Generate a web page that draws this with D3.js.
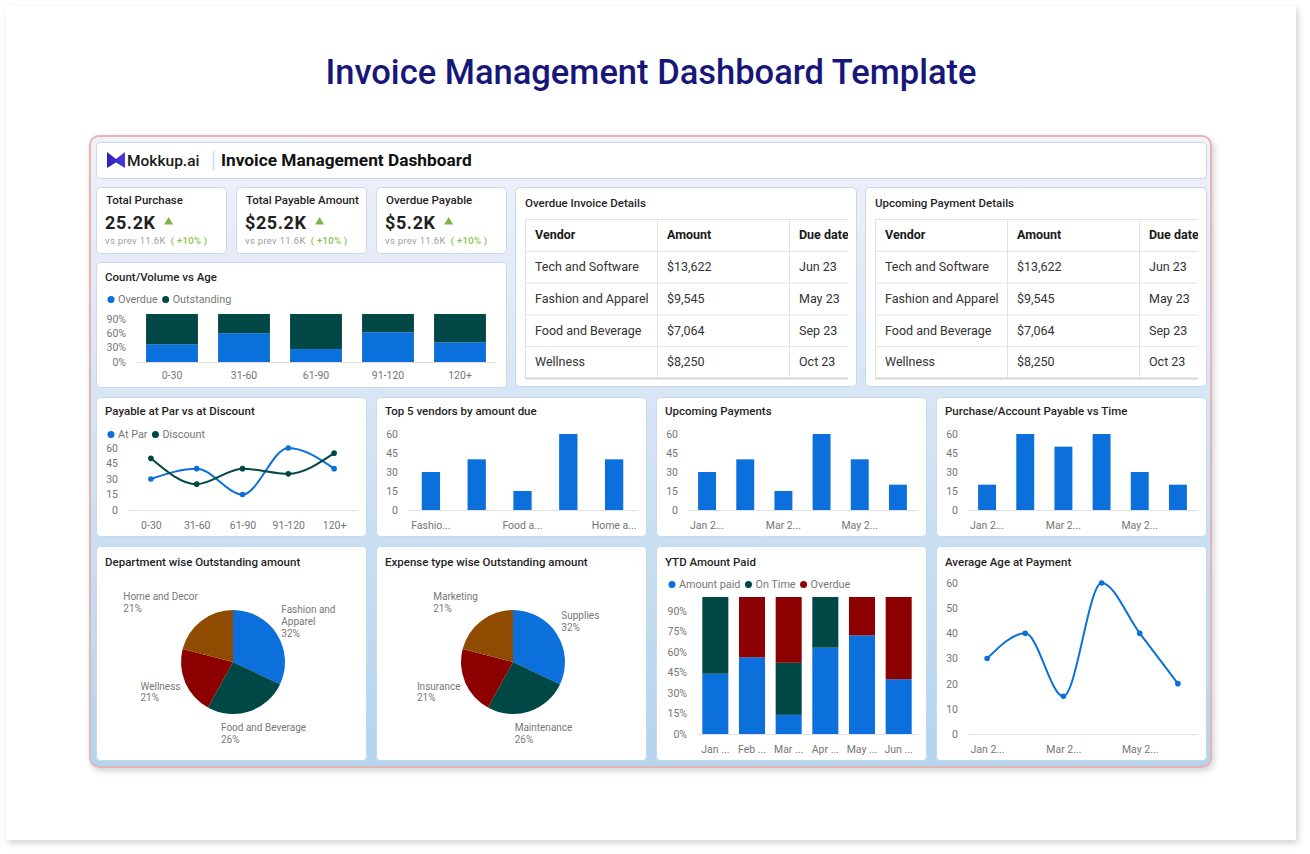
<!DOCTYPE html>
<html lang="en">
<head>
<meta charset="UTF-8">
<title>Invoice Management Dashboard Template</title>
<script src="https://cdn.jsdelivr.net/npm/d3@7"></script>
<style>
  body { margin: 0; background: #fff; }
  svg { display: block; font-family: Roboto, 'Noto Sans', sans-serif; }
</style>
</head>
<body>
<script>
// ---------- data ----------
const kpiTitles = ['Total Purchase', 'Total Payable Amount', 'Overdue Payable'];
const kpiValues = ['25.2K', '$25.2K', '$5.2K'];
const kpiPrev = ['11.6K', '11.6K', '11.6K'];
const kpiChange = ['+10%', '+10%', '+10%'];

const ageBuckets = ['0-30', '31-60', '61-90', '91-120', '120+'];
const overdueShare = [0.37, 0.60, 0.27, 0.62, 0.41];

const tableHeaders = ['Vendor', 'Amount', 'Due date'];
const tableVendors = ['Tech and Software', 'Fashion and Apparel', 'Food and Beverage', 'Wellness'];
const tableAmounts = ['$13,622', '$9,545', '$7,064', '$8,250'];
const tableDue = ['Jun 23', 'May 23', 'Sep 23', 'Oct 23'];

const atPar = [30, 40, 15, 60, 40];
const discount = [50, 25, 40, 35, 55];

const topVendors = ['Fashion and Apparel', 'Fitness and Sports', 'Food and Beverage', 'Health and Beauty', 'Home and Decor'];
const topVendorAmount = [30, 40, 15, 60, 40];

const months = ['Jan 2023', 'Feb 2023', 'Mar 2023', 'Apr 2023', 'May 2023', 'Jun 2023'];
const upcomingAmount = [30, 40, 15, 60, 40, 20];
const purchaseAmount = [20, 60, 50, 60, 30, 20];

const deptNames = ['Fashion and Apparel', 'Food and Beverage', 'Wellness', 'Home and Decor'];
const deptShare = [32, 26, 21, 21];
const expenseNames = ['Supplies', 'Maintenance', 'Insurance', 'Marketing'];
const expenseShare = [32, 26, 21, 21];

const ytdPaid = [44, 56, 14, 63, 72, 40];
const ytdOnTime = [56, 0, 38, 37, 0, 0];
const ytdOverdue = [0, 44, 48, 0, 28, 60];

const avgAge = [30, 40, 15, 60, 40, 20];

// ---------- styling ----------
const BLUE = '#0b6fdc', GREEN = '#004845', RED = '#8d0000', BROWN = '#8f4b00';
const AXIS_TXT = '#757575', GRID = '#e0e0e0';

const svg = d3.select('body').append('svg').attr('width', 1310).attr('height', 854);
const defs = svg.append('defs');

defs.append('filter').attr('id', 'shadow').attr('x', '-5%').attr('y', '-5%').attr('width', '110%').attr('height', '112%')
  .append('feDropShadow').attr('dx', 2).attr('dy', 3).attr('stdDeviation', 3)
  .attr('flood-color', '#000').attr('flood-opacity', 0.18);

const bg = defs.append('linearGradient').attr('id', 'dashBg').attr('x1', 0).attr('y1', 0).attr('x2', 0).attr('y2', 1);
bg.append('stop').attr('offset', '0%').attr('stop-color', '#f1f1f9');
bg.append('stop').attr('offset', '35%').attr('stop-color', '#dbe7f5');
bg.append('stop').attr('offset', '100%').attr('stop-color', '#b4d4ee');

const logoGrad = defs.append('linearGradient').attr('id', 'logoGrad').attr('x1', 0).attr('x2', 1);
logoGrad.append('stop').attr('offset', '0%').attr('stop-color', '#2b1fb8');
logoGrad.append('stop').attr('offset', '100%').attr('stop-color', '#4a3be0');

// page card
svg.append('rect').attr('x', 6).attr('y', 6).attr('width', 1290).attr('height', 834)
  .attr('fill', '#fff').attr('filter', 'url(#shadow)');

svg.append('text').attr('x', 651).attr('y', 84).attr('text-anchor', 'middle')
  .attr('font-size', 34.5).attr('font-weight', 500).attr('fill', '#17177a')
  .text('Invoice Management Dashboard Template');

// dashboard container
svg.append('rect').attr('x', 90).attr('y', 136).attr('width', 1121).attr('height', 631).attr('rx', 9)
  .attr('fill', 'url(#dashBg)').attr('stroke', '#e7b3b3').attr('stroke-width', 2)
  .attr('filter', 'url(#shadow)');

function card(x, y, w, h) {
  svg.append('rect').attr('x', x + 0.5).attr('y', y + 0.5).attr('width', w).attr('height', h).attr('rx', 4)
    .attr('fill', '#fff').attr('stroke', '#c6d9ec');
}

function title(x, y, t, size) {
  svg.append('text').attr('x', x).attr('y', y).attr('font-size', size || 11.5)
    .attr('font-weight', 500).attr('fill', '#1f1f1f').text(t);
}

function legend(x, y, items) {
  let cx = x;
  items.forEach(it => {
    svg.append('circle').attr('cx', cx).attr('cy', y - 3.5).attr('r', 3.5).attr('fill', it.color);
    const t = svg.append('text').attr('x', cx + 7).attr('y', y).attr('font-size', 10.8)
      .attr('fill', '#777').text(it.label);
    cx += 7 + t.node().getComputedTextLength() + 8;
  });
}

function trunc(s, n) { return s.length > n ? s.slice(0, n) + '...' : s; }

function styleAxis(g, line) {
  g.selectAll('text').attr('font-size', 10.5).attr('fill', AXIS_TXT).attr('font-family', 'Roboto, sans-serif');
  if (line) g.select('.domain').attr('stroke', GRID);
  else g.select('.domain').remove();
}

function yAxis(x, scale, ticks, fmt) {
  const ax = d3.axisLeft(scale).tickValues(ticks).tickSize(0).tickPadding(10);
  if (fmt) ax.tickFormat(fmt);
  svg.append('g').attr('transform', `translate(${x},0)`).call(ax).call(g => styleAxis(g, false));
}

function xAxis(y, scale, fmt, pad) {
  const ax = d3.axisBottom(scale).tickSize(0).tickPadding(pad || 12).tickFormat(fmt);
  svg.append('g').attr('transform', `translate(0,${y})`).call(ax).call(g => styleAxis(g, true));
}

// ---------- header ----------
card(96, 142, 1110, 36);
svg.append('path').attr('transform', 'translate(107,152)')
  .attr('d', 'M0,0 L9,7 L18,0 L18,16 L9,10.5 L0,16 Z').attr('fill', 'url(#logoGrad)');
svg.append('text').attr('x', 127).attr('y', 166).attr('font-size', 15.5).attr('font-weight', 500)
  .attr('fill', '#1b1b1b').text('Mokkup.ai');
svg.append('line').attr('x1', 213.5).attr('x2', 213.5).attr('y1', 151).attr('y2', 170)
  .attr('stroke', '#c6dcef').attr('stroke-width', 1.5);
svg.append('text').attr('x', 221).attr('y', 166).attr('font-size', 17.3).attr('font-weight', 700)
  .attr('fill', '#111').text('Invoice Management Dashboard');

// ---------- KPI cards ----------
kpiTitles.forEach((t, i) => {
  const x = 96 + i * 140;
  card(x, 187, 130, 66);
  title(x + 10, 204, t);
  const v = svg.append('text').attr('x', x + 9).attr('y', 229).attr('font-size', 18).attr('font-weight', 700)
    .attr('letter-spacing', 0.6).attr('fill', '#222').text(kpiValues[i]);
  const vw = v.node().getComputedTextLength();
  svg.append('path').attr('d', d3.symbol(d3.symbolTriangle, 34)())
    .attr('transform', `translate(${x + 9 + vw + 13},222)`).attr('fill', '#7cb342');
  const s = svg.append('text').attr('x', x + 9).attr('y', 244).attr('font-size', 9.5).attr('letter-spacing', 0.3);
  s.append('tspan').attr('fill', '#9e9e9e').text('vs prev ' + kpiPrev[i]);
  s.append('tspan').attr('dx', 5).attr('fill', '#8bc34a').attr('font-weight', 500).text('( ' + kpiChange[i] + ' )');
});

// ---------- Count/Volume vs Age ----------
card(96, 262, 410, 125);
title(105, 281, 'Count/Volume vs Age');
legend(111, 303, [{ label: 'Overdue', color: BLUE }, { label: 'Outstanding', color: GREEN }]);
{
  const x = d3.scaleBand().domain(ageBuckets).range([136, 496]).paddingInner(0.28).paddingOuter(0.14);
  const y = d3.scaleLinear().domain([0, 1]).range([362, 314]);
  yAxis(136, y, [0, 0.3, 0.6, 0.9], d3.format('.0%'));
  const rows = ageBuckets.map((a, i) => ({ age: a, overdue: overdueShare[i], outstanding: 1 - overdueShare[i] }));
  const series = d3.stack().keys(['overdue', 'outstanding'])(rows);
  const col = { overdue: BLUE, outstanding: GREEN };
  series.forEach(s => {
    svg.append('g').selectAll('rect').data(s).join('rect')
      .attr('x', d => x(d.data.age)).attr('width', x.bandwidth())
      .attr('y', d => y(d[1])).attr('height', d => y(d[0]) - y(d[1]))
      .attr('fill', col[s.key]);
  });
  xAxis(362, x, d => d, 10);
}

// ---------- tables ----------
function detailTable(x0, heading) {
  card(x0 - 10, 187, 341, 199);
  title(x0, 207, heading);
  const clipId = 'clip' + x0;
  defs.append('clipPath').attr('id', clipId).append('rect')
    .attr('x', x0 - 1).attr('y', 215).attr('width', 324).attr('height', 170);
  const g = svg.append('g').attr('clip-path', `url(#${clipId})`);
  const cx = d3.scaleBand().domain(tableHeaders).range([x0, x0 + 396]);
  const rowIdx = d3.range(tableVendors.length + 1);
  const ry = d3.scaleBand().domain(rowIdx).range([219, 378]);
  const rows = [tableHeaders].concat(tableVendors.map((v, i) => [v, tableAmounts[i], tableDue[i]]));
  rowIdx.concat([rowIdx.length]).forEach(r => {
    const yy = r < rowIdx.length ? ry(r) : 378;
    g.append('line').attr('x1', x0).attr('x2', x0 + 396).attr('y1', yy + 0.5).attr('y2', yy + 0.5)
      .attr('stroke', r === rowIdx.length ? '#d6d6d6' : '#e3e3e3').attr('stroke-width', r === rowIdx.length ? 2 : 1);
  });
  tableHeaders.forEach(h => {
    g.append('line').attr('x1', cx(h) + 0.5).attr('x2', cx(h) + 0.5).attr('y1', 219).attr('y2', 378)
      .attr('stroke', '#e3e3e3');
  });
  rows.forEach((r, ri) => {
    r.forEach((cell, ci) => {
      g.append('text').attr('x', cx(tableHeaders[ci]) + 10).attr('y', ry(ri) + ry.bandwidth() / 2)
        .attr('dy', '0.35em').attr('font-size', 12.5)
        .attr('font-weight', ri === 0 ? 700 : 400).attr('fill', ri === 0 ? '#1a1a1a' : '#333').text(cell);
    });
  });
}
detailTable(525, 'Overdue Invoice Details');
detailTable(875, 'Upcoming Payment Details');

// ---------- row 2 ----------
const row2X = [96, 376, 656, 936];
row2X.forEach(x => card(x, 397, 270, 139));

// Payable at Par vs at Discount
title(105, 415, 'Payable at Par vs at Discount');
legend(111, 438, [{ label: 'At Par', color: BLUE }, { label: 'Discount', color: GREEN }]);
{
  const x = d3.scalePoint().domain(ageBuckets).range([128, 357]).padding(0.5);
  const y = d3.scaleLinear().domain([0, 60]).range([510, 448]);
  yAxis(128, y, [0, 15, 30, 45, 60]);
  xAxis(510, x, d => d, 12);
  [[atPar, BLUE], [discount, GREEN]].forEach(([vals, c]) => {
    const line = d3.line().x((d, i) => x(ageBuckets[i])).y(d => y(d)).curve(d3.curveMonotoneX);
    svg.append('path').datum(vals).attr('d', line).attr('fill', 'none').attr('stroke', c).attr('stroke-width', 2);
    svg.append('g').selectAll('circle').data(vals).join('circle')
      .attr('cx', (d, i) => x(ageBuckets[i])).attr('cy', d => y(d)).attr('r', 2.8).attr('fill', c);
  });
}

function simpleBars(x0, x1, cats, vals, pad, n) {
  const x = d3.scaleBand().domain(cats).range([x0, x1]).paddingInner(pad).paddingOuter(pad / 2);
  const y = d3.scaleLinear().domain([0, 60]).range([510, 434]);
  yAxis(x0, y, [0, 15, 30, 45, 60]);
  svg.append('g').selectAll('rect').data(vals).join('rect')
    .attr('x', (d, i) => x(cats[i])).attr('width', x.bandwidth())
    .attr('y', d => y(d)).attr('height', d => y(0) - y(d)).attr('fill', BLUE);
  xAxis(510, x, (d, i) => i % 2 === 0 ? trunc(d, n) : '', 12);
}

title(385, 415, 'Top 5 vendors by amount due');
simpleBars(408, 637, topVendors, topVendorAmount, 0.6, 6);

title(665, 415, 'Upcoming Payments');
simpleBars(688, 917, months, upcomingAmount, 0.53, 5);

title(945, 415, 'Purchase/Account Payable vs Time');
simpleBars(968, 1197, months, purchaseAmount, 0.53, 5);

// ---------- row 3 ----------
row2X.forEach(x => card(x, 546, 270, 214));

function measure(t, size) {
  const tmp = svg.append('text').attr('font-size', size).text(t);
  const w = tmp.node().getComputedTextLength();
  tmp.remove();
  return w;
}

function pieChart(cardX, names, shares) {
  const cx = cardX + 137, cy = 662, r = 52;
  const colors = [BLUE, GREEN, RED, BROWN];
  const arcs = d3.pie().sort(null).value(d => d)(shares);
  const arc = d3.arc().innerRadius(0).outerRadius(r);
  svg.append('g').attr('transform', `translate(${cx},${cy})`).selectAll('path').data(arcs).join('path')
    .attr('d', arc).attr('fill', (d, i) => colors[i]);
  const fs = 10, lh = 11.8;
  arcs.forEach((a, i) => {
    const mid = (a.startAngle + a.endAngle) / 2;
    const dx = Math.sin(mid), dy = -Math.cos(mid);
    let side = 'middle', lx = cx + dx * r * 1.9;
    if (dx > 0.5) { side = 'start'; lx = cx + dx * r * 1.1; }
    if (dx < -0.5) { side = 'end'; lx = cx + dx * r * 1.1; }
    const maxW = side === 'start' ? cardX + 262 - lx : side === 'end' ? lx - cardX - 8 : 200;
    // greedy word wrap
    const lines = [];
    let cur = '';
    names[i].split(' ').forEach(w => {
      const test = cur ? cur + ' ' + w : w;
      if (cur && measure(test, fs) > maxW) { lines.push(cur); cur = w; } else cur = test;
    });
    lines.push(cur);
    lines.push(shares[i] + '%');
    // block is left aligned; place it by side
    const bw = d3.max(lines, l => measure(l, fs));
    const left = side === 'start' ? lx : side === 'end' ? lx - bw : lx - bw / 2;
    const ly = cy + dy * r * 1.45 - (lines.length - 1) * lh / 2;
    const t = svg.append('text').attr('font-size', fs).attr('fill', '#777');
    lines.forEach((l, k) => t.append('tspan').attr('x', left).attr('y', ly + k * lh).attr('dy', '0.35em').text(l));
  });
}

title(105, 566, 'Department wise Outstanding amount');
pieChart(96, deptNames, deptShare);

title(385, 566, 'Expense type wise Outstanding amount');
pieChart(376, expenseNames, expenseShare);

// YTD Amount Paid
title(665, 566, 'YTD Amount Paid');
legend(672, 588, [{ label: 'Amount paid', color: BLUE }, { label: 'On Time', color: GREEN }, { label: 'Overdue', color: RED }]);
{
  const x = d3.scaleBand().domain(months).range([697, 917]).paddingInner(0.29).paddingOuter(0.145);
  const y = d3.scaleLinear().domain([0, 100]).range([734, 597]);
  yAxis(697, y, [0, 15, 30, 45, 60, 75, 90], d => d + '%');
  const rows = months.map((m, i) => ({ m: m, paid: ytdPaid[i], ontime: ytdOnTime[i], overdue: ytdOverdue[i] }));
  const series = d3.stack().keys(['paid', 'ontime', 'overdue'])(rows);
  const col = { paid: BLUE, ontime: GREEN, overdue: RED };
  series.forEach(s => {
    svg.append('g').selectAll('rect').data(s).join('rect')
      .attr('x', d => x(d.data.m)).attr('width', x.bandwidth())
      .attr('y', d => y(d[1])).attr('height', d => y(d[0]) - y(d[1]))
      .attr('fill', col[s.key]);
  });
  xAxis(734, x, d => trunc(d, 4), 12);
}

// Average Age at Payment
title(945, 566, 'Average Age at Payment');
{
  const x = d3.scalePoint().domain(months).range([968, 1197]).padding(0.5);
  const y = d3.scaleLinear().domain([0, 60]).range([734, 583]);
  yAxis(968, y, [0, 10, 20, 30, 40, 50, 60]);
  xAxis(734, x, (d, i) => i % 2 === 0 ? trunc(d, 5) : '', 12);
  const line = d3.line().x((d, i) => x(months[i])).y(d => y(d)).curve(d3.curveMonotoneX);
  svg.append('path').datum(avgAge).attr('d', line).attr('fill', 'none').attr('stroke', BLUE).attr('stroke-width', 2);
  svg.append('g').selectAll('circle').data(avgAge).join('circle')
    .attr('cx', (d, i) => x(months[i])).attr('cy', d => y(d)).attr('r', 2.8).attr('fill', BLUE);
}
</script>
</body>
</html>
